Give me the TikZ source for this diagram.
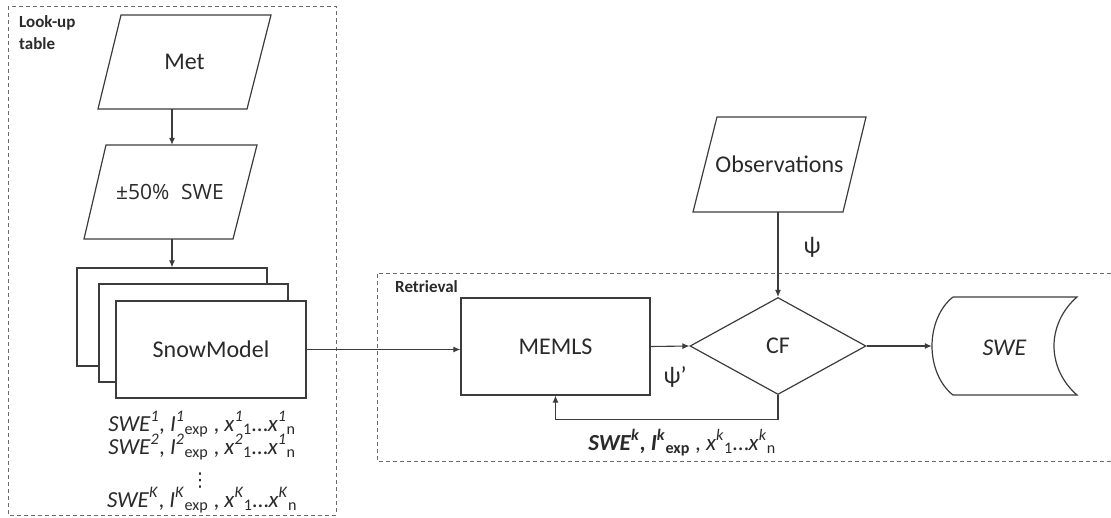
\documentclass[tikz,border=0pt]{standalone}
\usepackage{fontspec}
\setmainfont{Carlito}
\newfontfamily\osans{Open Sans}
\newfontfamily\dvsans{DejaVu Sans}
\usetikzlibrary{arrows.meta,shapes.geometric}
\definecolor{lncol}{HTML}{3C3C3C}
\definecolor{txcol}{HTML}{2A2A2A}
\definecolor{dshcol}{HTML}{6A6A6A}
\begin{document}
\begin{tikzpicture}[x=1pt,y=-1pt,
  every node/.style={text=txcol, inner sep=0pt},
  shp/.style={draw=lncol, line width=1.2pt},
  anch/.style={draw=none, inner sep=0pt},
  arr/.style={draw=lncol, line width=1.1pt, -{Latex[length=7pt,width=6pt]}},
  grp/.style={draw=dshcol, line width=1pt, dash pattern=on 4pt off 3pt},
  big/.style={font=\fontsize{24}{28}\selectfont},
  lbl/.style={font=\bfseries\fontsize{17}{22}\selectfont},
  eq/.style={font=\fontsize{23}{23}\selectfont, anchor=base},
]
\useasboundingbox (0,0) rectangle (1111,517);

% Look-up table group
\draw[grp] (8,6) rectangle (336,515);
\node[lbl, anchor=north west, align=left] (lut) at (19,15) {Look-up\\table};

% Met
\draw[shp] (121,15) -- (271,15) -- (247,109) -- (98,109) -- cycle;
\node[anch, big, minimum width=150pt, minimum height=94pt] (met) at (184.5,62) {Met};

% +-50% SWE
\draw[shp] (106,145) -- (257,145) -- (233,239) -- (84,239) -- cycle;
\node[anch, minimum width=150pt, minimum height=94pt, font=\osans\fontsize{21}{25}\selectfont] (pm) at (170,192) {±50\%\hspace{0.3em} SWE};

% SnowModel stack
\node[shp, fill=white, minimum width=190pt, minimum height=98pt] (back) at (172,317) {};
\node[shp, fill=white, minimum width=189pt, minimum height=98pt] (mid) at (193.5,333) {};
\node[shp, fill=white, minimum width=190pt, minimum height=97pt, big] (snow) at (211,349.5) {SnowModel};

% ensemble lines
\node[eq] (l1) at (202,431) {\textit{SWE}\textsuperscript{\textit{1}}, \textit{I}\textsuperscript{\textit{1}}\textsubscript{exp} , \textit{x}\textsuperscript{\textit{1}}\textsubscript{1}…\textit{x}\textsuperscript{\textit{1}}\textsubscript{n}};
\node[eq] (l2) at (202,454) {\textit{SWE}\textsuperscript{\textit{2}}, \textit{I}\textsuperscript{\textit{2}}\textsubscript{exp} , \textit{x}\textsuperscript{\textit{2}}\textsubscript{1}…\textit{x}\textsuperscript{\textit{1}}\textsubscript{n}};
\node[font=\dvsans\fontsize{19}{19}\selectfont] (ld) at (200,481) {⋮};
\node[eq] (lK) at (202,507) {\textit{SWE}\textsuperscript{\textit{K}}, \textit{I}\textsuperscript{\textit{K}}\textsubscript{exp} , \textit{x}\textsuperscript{\textit{K}}\textsubscript{1}…\textit{x}\textsuperscript{\textit{K}}\textsubscript{n}};

% Retrieval group
\draw[grp] (1111,273) -- (377,273) -- (377,461) -- (1111,461);
\node[lbl, anchor=base west] (ret) at (395,292) {Retrieval};

% MEMLS, CF
\node[shp, big, minimum width=189pt, minimum height=97pt] (memls) at (555.5,346.5) {MEMLS};
\node[shp, diamond, big, minimum width=176pt, minimum height=97pt] (cf) at (778,346) {CF};

% Observations
\draw[shp] (717,117) -- (866,117) -- (843,212) -- (693,212) -- cycle;
\node[anch, big, minimum width=150pt, minimum height=95pt] (obs) at (779.5,164.5) {Observations};

% SWE store
\draw[shp] (953,297) -- (1077,297) .. controls (1062,310) and (1054,328) .. (1054,346) .. controls (1054,364) and (1062,382) .. (1077,395) -- (953,395) .. controls (940,385) and (932,366) .. (932,346) .. controls (932,326) and (940,307) .. (953,297);
\node[anch, big, minimum width=145pt, minimum height=98pt] (swe) at (1004.5,348) {\textit{SWE}\hspace{14pt}};

% connectors
\draw[arr] (met.south -| back.north) -- (pm.north -| back.north);
\draw[arr] (pm.south -| back.north) -- (back.north);
\draw[arr] (snow.east) -- (snow.east -| memls.west);
\draw[arr] (memls.east) -- (cf.west);
\draw[arr] (obs.south -| cf.north) -- (cf.north);
\draw[arr] (cf.east) -- (cf.east -| swe.west);
\draw[arr] (cf.south) -- ++(0,24) -| (memls.south);

% labels
\node[big] (psip) at (675,377) {ψ’};
\node[big] (psi) at (812,247) {ψ};
\node[eq] (lk) at (682,450) {\textbf{\textit{SWE}\textsuperscript{\textit{k}}, \textit{I}\textsuperscript{\textit{k}}\textsubscript{exp}} , \textit{x}\textsuperscript{\textit{k}}\textsubscript{1}…\textit{x}\textsuperscript{\textit{k}}\textsubscript{n}};
\end{tikzpicture}
\end{document}
